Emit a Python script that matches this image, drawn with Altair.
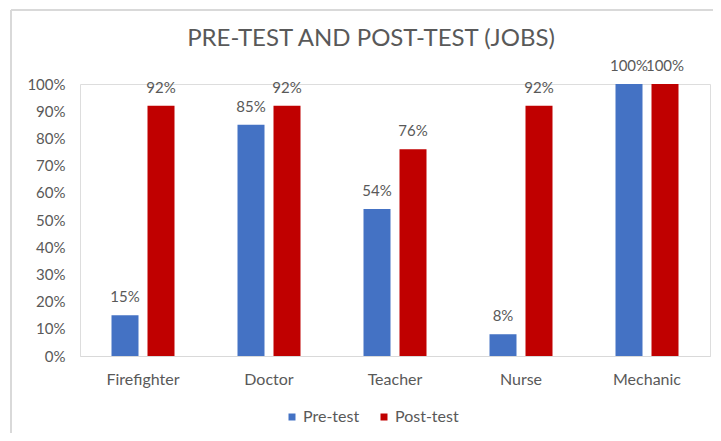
import altair as alt
import pandas as pd

jobs = ["Firefighter", "Doctor", "Teacher", "Nurse", "Mechanic"]
pre_test = [15, 85, 54, 8, 100]
post_test = [92, 92, 76, 92, 100]
series = ["Pre-test", "Post-test"]
colors = ["#4472C4", "#C00000"]

rows = []
for j, a, b in zip(jobs, pre_test, post_test):
    rows.append({"job": j, "series": "Pre-test", "value": a / 100, "label": f"{a}%"})
    rows.append({"job": j, "series": "Post-test", "value": b / 100, "label": f"{b}%"})
df = pd.DataFrame(rows)

font = "Lato"
grey = "#595959"

x = alt.X("job:N", sort=jobs, title=None,
          scale=alt.Scale(paddingInner=0.5, paddingOuter=0.25),
          axis=alt.Axis(labelAngle=0, ticks=False, domainColor="#D9D9D9",
                        labelColor=grey, labelFontSize=16, labelFont=font,
                        labelPadding=15))
xo = alt.XOffset("series:N", sort=series, scale=alt.Scale(paddingInner=0.25))
y = alt.Y("value:Q", title=None,
          scale=alt.Scale(domain=[0, 1]),
          axis=alt.Axis(format=".0%", values=[i / 10 for i in range(11)],
                        domain=False, ticks=False, grid=False,
                        labelColor=grey, labelFontSize=15, labelFont=font,
                        labelPadding=15))

base = alt.Chart(df)
bars = base.mark_bar().encode(
    x=x, xOffset=xo, y=y,
    color=alt.Color("series:N", sort=series,
                    scale=alt.Scale(domain=series, range=colors),
                    legend=alt.Legend(title=None, orient="none", direction="horizontal",
                                      legendX=204, legendY=325,
                                      symbolType="square", symbolSize=49,
                                      symbolStrokeWidth=0,
                                      labelFont=font, labelFontSize=16, labelColor=grey,
                                      labelOffset=3, columnPadding=16)),
)
text = base.mark_text(dy=-18, fontSize=15, font=font, color=grey).encode(
    x=x, xOffset=xo, y=y, text="label:N"
)

border = alt.Chart(pd.DataFrame({"k": [0]})).mark_rule(color="#D9D9D9", strokeWidth=2)
top_line = border.encode(x=alt.value(-69), x2=alt.value(641), y=alt.value(-74))
left_line = border.encode(x=alt.value(-69), y=alt.value(-74), y2=alt.value(357))

chart = (top_line + left_line + bars + text).properties(
    width=630, height=272,
    title=alt.TitleParams("PRE-TEST AND POST-TEST (JOBS)", fontSize=24, font=font,
                          color=grey, fontWeight="normal", anchor="middle",
                          offset=-42, dx=-24),
    autosize=alt.AutoSizeParams(type="none"),
    padding={"left": 72, "top": 76, "right": 3, "bottom": 77},
).configure_view(stroke=None).configure(background="white")

chart.save("out.html", embed_options={"renderer": "svg", "actions": False})
